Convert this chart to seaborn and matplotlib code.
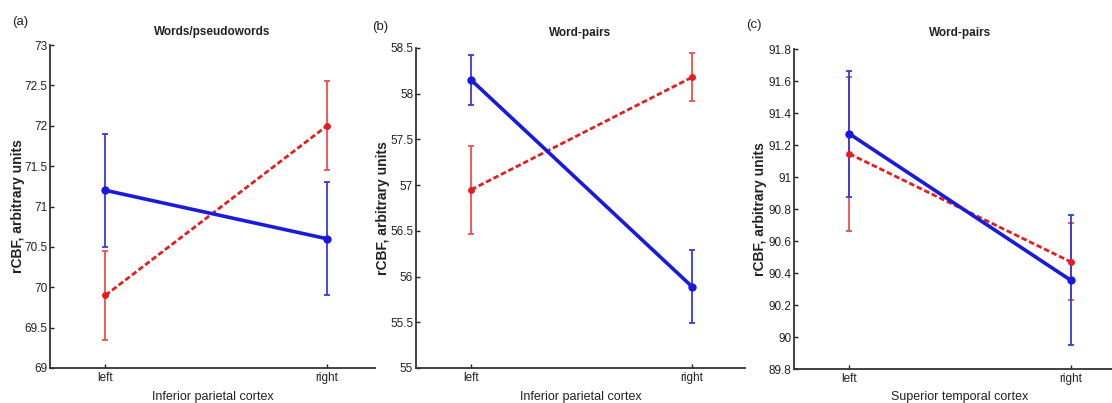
import numpy as np
import pandas as pd
import matplotlib
matplotlib.use("Agg")
import matplotlib.pyplot as plt
import matplotlib.ticker as mticker
import seaborn as sns

# ---------------- data ----------------
sides = ["left", "right"]
panel_labels = ["(a)", "(b)", "(c)"]
titles = ["Words/pseudowords", "Word-pairs", "Word-pairs"]
xlabels = ["Inferior parietal cortex", "Inferior parietal cortex", "Superior temporal cortex"]
ylabel = "rCBF, arbitrary units"

# panel a
a_blue = [71.2, 70.6]
a_blue_err = [0.70, 0.70]
a_red = [69.9, 72.0]
a_red_err = [0.55, 0.55]
# panel b
b_blue = [58.15, 55.89]
b_blue_err = [0.27, 0.40]
b_red = [56.95, 58.18]
b_red_err = [0.48, 0.26]
# panel c
c_blue = [91.27, 90.355]
c_blue_err = [0.395, 0.405]
c_red = [91.145, 90.47]
c_red_err = [0.48, 0.24]

ylims = [(69, 73), (55, 58.5), (89.8, 91.8)]
yticks = [np.arange(69, 73.01, 0.5), np.arange(55, 58.51, 0.5), np.arange(89.8, 91.81, 0.2)]

panels = [
    (a_blue, a_blue_err, a_red, a_red_err),
    (b_blue, b_blue_err, b_red, b_red_err),
    (c_blue, c_blue_err, c_red, c_red_err),
]

# ---------------- style ----------------
sns.set_style("ticks")
plt.rcParams["font.family"] = ["Liberation Sans", "DejaVu Sans"]

W, H = 1112, 403
fig = plt.figure(figsize=(W / 100, H / 100), dpi=100)

# axes boxes in pixels: left, right, top, bottom
boxes = [(50, 375, 45, 368), (416, 745, 48, 368), (794, 1126, 49, 369)]
xlims = [(0.75, 2.216), (0.75, 2.24), (0.75, 2.25)]
letter_pos = [(12, 22), (372, 27), (746, 25)]
ylabel_x = [18, 383, 760]
title_y = [32, 33, 33]
xlabel_y = 397

BLUE = "#1a1adc"
RED = "#e41e1e"
RED_ERR = "#e85050"
BLUE_ERR = "#3a3ad8"
TXT = "#222222"

for i, (bl, ble, rd, rde) in enumerate(panels):
    l, r, t, b = boxes[i]
    ax = fig.add_axes([l / W, (H - b) / H, (r - l) / W, (b - t) / H])
    df = pd.DataFrame({
        "pos": [1, 2, 1, 2],
        "side": sides + sides,
        "value": rd + bl,
        "err": rde + ble,
        "group": ["red", "red", "blue", "blue"],
    })
    dr = df[df.group == "red"]
    db = df[df.group == "blue"]
    ax.errorbar(dr.pos, dr.value, yerr=dr.err, fmt="none", ecolor=RED_ERR,
                elinewidth=1.3, capsize=2, capthick=1.3, zorder=2)
    ax.errorbar(db.pos, db.value, yerr=db.err, fmt="none", ecolor=BLUE_ERR,
                elinewidth=1.3, capsize=2, capthick=1.3, zorder=3)
    sns.lineplot(data=dr, x="pos", y="value", ax=ax, color=RED, lw=2.0,
                 marker="o", markersize=5, markeredgewidth=0,
                 linestyle=(0, (2.0, 1.0)), zorder=4, legend=False)
    sns.lineplot(data=db, x="pos", y="value", ax=ax, color=BLUE, lw=2.6,
                 marker="o", markersize=6, markeredgewidth=0, zorder=5,
                 legend=False)

    ax.set_xlim(*xlims[i])
    ax.set_ylim(*ylims[i])
    ax.set_xticks([1, 2])
    ax.set_xticklabels(sides)
    ax.set_yticks(yticks[i])
    ax.yaxis.set_major_formatter(mticker.FuncFormatter(lambda v, p: f"{v:.4g}"))
    ax.tick_params(direction="in", length=3, width=1.0, labelsize=8.5, pad=2,
                   colors=TXT)
    ax.tick_params(axis="x", pad=3)
    for s in ["top", "right"]:
        ax.spines[s].set_visible(False)
    for s in ["left", "bottom"]:
        ax.spines[s].set_linewidth(1.3)
        ax.spines[s].set_color("#333333")

    ax.set_xlabel(xlabels[i], fontsize=9, color=TXT)
    ax.xaxis.set_label_coords(0.5, -(xlabel_y - b) / (b - t))
    ax.xaxis.label.set_va("center")

    ax.set_ylabel(ylabel, fontsize=10, fontweight="bold", color=TXT)
    ax.yaxis.set_label_coords(-(l - ylabel_x[i]) / (r - l), 0.5)
    ax.yaxis.label.set_va("center")

    ax.set_title(titles[i], fontsize=8.5, fontweight="bold", color=TXT,
                 y=1 + (t - title_y[i]) / (b - t), va="center", pad=0)
    lx, ly = letter_pos[i]
    fig.text(lx / W, 1 - ly / H, panel_labels[i], fontsize=9.5, va="center",
             ha="left", color=TXT)

fig.savefig("out.png", dpi=100)
